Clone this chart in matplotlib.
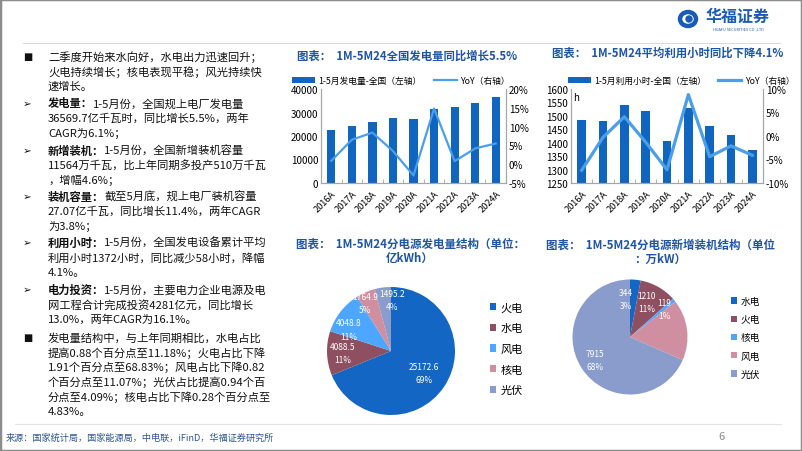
import matplotlib
matplotlib.use('Agg')
import matplotlib.pyplot as plt
from matplotlib.patches import Rectangle, Ellipse
from matplotlib.lines import Line2D
from matplotlib.ticker import FuncFormatter
import numpy as np

plt.rcParams['font.family'] = ['Noto Sans CJK SC', 'DejaVu Sans']
plt.rcParams['axes.unicode_minus'] = False

# ---- data ----
years = ['2016A', '2017A', '2018A', '2019A', '2020A', '2021A', '2022A', '2023A', '2024A']
gen = [22430, 24150, 26150, 27570, 27150, 31700, 32300, 34000, 36570]
gen_yoy = [0.9, 6.5, 8.4, 3.5, -3.0, 14.8, 0.8, 4.2, 5.5]
hours = [1484, 1479, 1539, 1519, 1405, 1528, 1461, 1430, 1372]
hours_yoy = [-7.3, -0.3, 4.1, -1.3, -7.2, 8.8, -4.4, -2.1, -4.1]

gen_src = ['火电', '水电', '风电', '核电', '光伏']
gen_val = [25172.6, 4088.5, 4048.8, 1764.9, 1495.2]
gen_pct = ['69%', '11%', '11%', '5%', '4%']
cap_src = ['水电', '火电', '核电', '风电', '光伏']
cap_val = [344, 1210, 119, 1976, 7915]
cap_pct = ['3%', '11%', '1%', None, '68%']  # 风电 slice carries no label

BAR = '#0f65c0'
LINE = '#4a9eea'
TITLE = '#1f55a5'
SPINE = '#a6a6a6'
pie_colors = ['#1466c4', '#8e5060', '#4da6ff', '#d08fa0', '#8a9ccb']

W, H = 802, 452
fx = lambda x: x / W
fy = lambda y: 1 - y / H

fig = plt.figure(figsize=(W / 100, H / 100), dpi=100)

# frame, header and footer
fig.patches.append(Rectangle((0, 0), 1, 1, transform=fig.transFigure, fill=False,
                             edgecolor='#8c8c8c', lw=2.5))
fig.add_artist(Line2D([fx(23), fx(780)], [fy(44), fy(44)], color='#dcdcdc', lw=0.8))
fig.add_artist(Line2D([fx(15), fx(781)], [fy(425), fy(425)], color='#e3e3e3', lw=0.8))

fig.patches.append(Ellipse((fx(688), fy(20)), 16 / W, 14 / H, transform=fig.transFigure,
                           fill=False, edgecolor='#1a5bb5', lw=3.2))
fig.patches.append(Ellipse((fx(689), fy(20)), 6 / W, 6 / H, transform=fig.transFigure,
                           color='#1a5bb5'))
fig.text(fx(738), fy(17), '华福证券', fontsize=11.5, fontweight='bold', color='#1a5bb5',
         ha='center', va='center')
fig.text(fx(738), fy(29), 'HUAFU SECURITIES CO.,LTD', fontsize=2.8, color='#1a5bb5',
         ha='center', va='center')

fig.text(fx(6), fy(438), '来源：国家统计局，国家能源局，中电联，iFinD，华福证券研究所',
         fontsize=6.6, color='#2f5597', va='center')
fig.text(fx(718), fy(437), '6', fontsize=8, color='#8c8c8c', va='center')

# ---- left text panel ----
paras = [
    ('■', '', ['二季度开始来水向好，水电出力迅速回升；', '火电持续增长；核电表现平稳；风光持续快', '速增长。'], 57),
    ('➢', '发电量：', ['1-5月份，全国规上电厂发电量', '36569.7亿千瓦时，同比增长5.5%，两年', 'CAGR为6.1%；'], 104),
    ('➢', '新增装机：', ['1-5月份，全国新增装机容量', '11564万千瓦，比上年同期多投产510万千瓦', '，增幅4.6%；'], 151),
    ('➢', '装机容量：', ['截至5月底，规上电厂装机容量', '27.07亿千瓦，同比增长11.4%，两年CAGR', '为3.8%；'], 197),
    ('➢', '利用小时：', ['1-5月份，全国发电设备累计平均', '利用小时1372小时，同比减少58小时，降幅', '4.1%。'], 243),
    ('➢', '电力投资：', ['1-5月份，主要电力企业电源及电', '网工程合计完成投资4281亿元，同比增长', '13.0%，两年CAGR为16.1%。'], 290),
    ('■', '', ['发电量结构中，与上年同期相比，水电占比', '提高0.88个百分点至11.18%；火电占比下降',
               '1.91个百分点至68.83%；风电占比下降0.82', '个百分点至11.07%；光伏占比提高0.94个百',
               '分点至4.09%；核电占比下降0.28个百分点至', '4.83%。'], 338),
]
renderer = fig.canvas.get_renderer()
TXT = '#111111'
for bullet, bold, lines, y0 in paras:
    fig.text(fx(23), fy(y0), bullet, fontsize=7 if bullet == '■' else 7.5, color=TXT,
             va='center', family=['DejaVu Sans'])
    for i, ln in enumerate(lines):
        y = y0 + i * 14.8
        x = fx(48)
        if i == 0 and bold:
            t = fig.text(x, fy(y), bold, fontsize=8.1, fontweight='bold', color=TXT, va='center')
            x = t.get_window_extent(renderer=renderer).x1 / W
        fig.text(x, fy(y), ln, fontsize=8.1, color=TXT, va='center')


# ---- bar + line charts ----
def combo(rect, vals, yoy, ylim, yticks, rlim, rticks, bar_label, center, lw, title, title_xy):
    ax = fig.add_axes(rect)
    x = np.arange(len(years))
    bars = ax.bar(x, vals, width=0.4, color=BAR, zorder=2)
    ax.set_xlim(-0.5, len(years) - 0.5)
    ax.set_ylim(*ylim)
    ax.set_yticks(yticks)
    ax.set_xticks(x)
    ax.set_xticklabels(years, rotation=45, ha='right', rotation_mode='anchor', fontsize=6.6)
    ax.set_xticks(np.arange(-0.5, len(years), 1), minor=True)
    ax.tick_params(axis='x', which='major', length=0, pad=4)
    ax.tick_params(axis='x', which='minor', length=3, direction='in', color=SPINE)
    ax.tick_params(axis='y', labelsize=7, length=0, pad=2)
    ax2 = ax.twinx()
    line, = ax2.plot(x, yoy, color=LINE, lw=lw, zorder=3)
    ax2.set_ylim(*rlim)
    ax2.set_yticks(rticks)
    ax2.yaxis.set_major_formatter(FuncFormatter(lambda v, p: f'{v:.0f}%'))
    ax2.tick_params(axis='y', labelsize=7, length=0, pad=2)
    for a in (ax, ax2):
        a.spines['top'].set_visible(False)
        for s in ('left', 'right', 'bottom'):
            a.spines[s].set_color(SPINE)
            a.spines[s].set_linewidth(0.8)
    fig.legend([bars, line], [bar_label, 'YoY（右轴）'], loc='center',
               bbox_to_anchor=(fx(center), fy(81.5)), ncol=2, frameon=False, fontsize=6.3,
               handlelength=2.6, handleheight=0.6, columnspacing=1.4, handletextpad=0.4)
    fig.text(fx(title_xy[0]), fy(title_xy[1]), title, fontsize=8.2, fontweight='bold',
             color=TITLE, ha='center', va='center')
    return ax


combo([fx(321), fy(184), 185 / W, 94 / H], gen, gen_yoy, (0, 40000),
      range(0, 40001, 10000), (-5, 20), range(-5, 21, 5), '1-5月发电量-全国（左轴）',
      401, 1.6, '图表：  1M-5M24全国发电量同比增长5.5%', (407, 56))
ax_h = combo([fx(571), fy(184), 192 / W, 94 / H], hours, hours_yoy, (1250, 1600),
             range(1250, 1601, 50), (-10, 10), range(-10, 11, 5), '1-5月利用小时-全国（左轴）',
             681, 2.3, '图表：  1M-5M24平均利用小时同比下降4.1%', (668, 53))
ax_h.text(0.01, 0.97, 'h', transform=ax_h.transAxes, fontsize=7, va='top', ha='left')


# ---- pies ----
def pie(rect, labels, vals, pcts, place, dist, legend_xy, legend_fs, title_lines, title_x, title_y):
    ax = fig.add_axes(rect)
    wedges, _ = ax.pie(vals, colors=pie_colors, startangle=90, counterclock=False,
                       wedgeprops=dict(linewidth=0))
    ax.set_xlim(-1, 1)
    ax.set_ylim(-1, 1)
    for w, lab, v, pc in zip(wedges, labels, vals, pcts):
        if pc is None:
            continue
        shift, d = place.get(lab, (0, dist))
        ang = np.deg2rad((w.theta1 + w.theta2) / 2 + shift)
        ax.text(d * np.cos(ang), d * np.sin(ang), f'{v:g}\n{pc}',
                color='white', fontsize=6, ha='center', va='center', linespacing=1.6)
    fig.legend(wedges, labels, loc='upper left', bbox_to_anchor=(fx(legend_xy[0]), fy(legend_xy[1])),
               frameon=False, fontsize=legend_fs, handlelength=0.6, handleheight=0.6,
               handletextpad=0.4, labelspacing=legend_xy[2], borderpad=0)
    for i, tl in enumerate(title_lines):
        fig.text(fx(title_x), fy(title_y + i * 14), tl, fontsize=8.3, fontweight='bold',
                 color=TITLE, ha='center', va='center')


pie([fx(327), fy(416), 128 / W, 128 / H], gen_src, gen_val, gen_pct,
    {'火电': (0, 0.62), '水电': (0, 0.75), '风电': (11, 0.74), '核电': (5, 0.85), '光伏': (-9, 0.8)},
    0.75, (484, 298, 0.95), 8, ['图表：  1M-5M24分电源发电量结构（单位：', '亿kWh）'], 410, 244)
pie([fx(572.5), fy(395.5), 115 / W, 115 / H], cap_src, cap_val, cap_pct,
    {'水电': (11, 0.66), '火电': (4, 0.67), '核电': (0, 0.77)}, 0.72,
    (726, 292, 0.85), 7, ['图表：  1M-5M24分电源新增装机结构（单位', '：万kW）'], 660, 245)

fig.savefig('out.png', dpi=100)
